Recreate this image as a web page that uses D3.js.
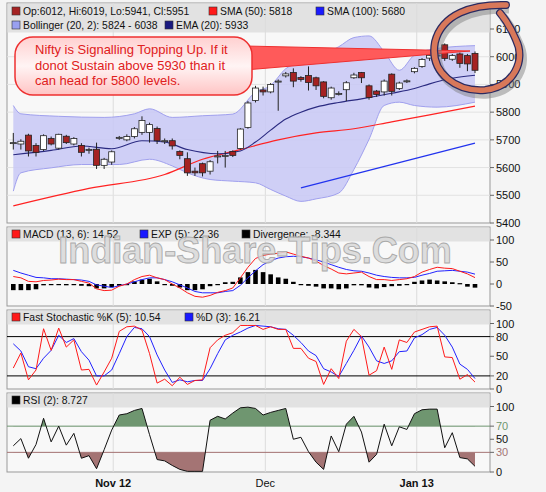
<!DOCTYPE html>
<html><head><meta charset="utf-8">
<script src="https://cdn.jsdelivr.net/npm/d3@7"></script>
<style>body{margin:0;background:#f4f4f4;}svg{display:block;font-family:"Liberation Sans",Arial,sans-serif;}</style>
</head><body><div id="chart"></div>
<script>
var opens  = [5690,5685,5717,5680,5665,5705,5670,5713,5685,5680,5665,5666,5608,5620,5709,5700,5712,5727,5727,5741,5697,5697,5658,5632,5587,5614,5587,5642,5644,5658,5669,5745,5842,5880,5873,5912,5931,5943,5925,5932,5924,5909,5852,5867,5881,5924,5943,5895,5876,5873,5937,5885,5913,5946,5965,5995,6003,6043,5991,6010,6004,6012];
var closes = [5690,5695,5660,5655,5715,5685,5720,5690,5705,5655,5665,5608,5630,5657,5709,5712,5740,5770,5755,5697,5697,5678,5644,5581,5581,5581,5621,5642,5644,5644,5739,5833,5887,5873,5900,5912,5938,5912,5918,5907,5895,5857,5887,5867,5906,5934,5924,5853,5864,5912,5875,5905,5913,5958,5990,6005,6006,5994,6004,5976,5974,5951];
var highs  = [5725,5702,5722,5688,5720,5712,5722,5718,5710,5688,5672,5690,5635,5662,5714,5720,5746,5785,5762,5748,5705,5705,5662,5655,5600,5618,5627,5660,5660,5662,5742,5840,5895,5892,5905,5918,5945,5958,5930,5965,5928,5912,5892,5875,5912,5942,5945,5900,5880,5918,5940,5910,5918,5962,5995,6010,6012,6048,6010,6015,6010,6019];
var lows   = [5665,5665,5640,5640,5660,5680,5665,5685,5680,5640,5650,5595,5595,5610,5700,5695,5705,5718,5690,5685,5685,5665,5630,5570,5570,5568,5575,5615,5600,5638,5665,5740,5835,5860,5868,5805,5925,5890,5910,5878,5880,5850,5845,5860,5840,5920,5905,5845,5855,5860,5860,5880,5905,5940,5960,5985,5990,5985,5985,5960,5948,5941];

var sma50   = [[0,5462],[10,5525],[20,5575],[25,5630],[30,5665],[35,5700],[40,5725],[45,5740],[50,5765],[55,5790],[61,5822]];
var sma100  = [[38,5527],[61,5688]];
var ema20   = [[0,5646],[5,5662],[9,5678],[13,5668],[17,5697],[20,5692],[23,5665],[27,5650],[30,5660],[32,5692],[34,5735],[36,5775],[38,5800],[40,5818],[43,5835],[46,5848],[50,5868],[53,5885],[55,5902],[58,5922],[61,5933]];
var bollUp  = [[0,5824],[1,5794],[6,5785],[12,5781],[16,5794],[18,5812],[21,5781],[25,5787],[29,5793],[32,5872],[34,5896],[36,5957],[38,5981],[40,6000],[43,6036],[45,6069],[47,6075],[49,6018],[51,5951],[53,6006],[56,6030],[61,6040]];
var bollLo  = [[0,5515],[1,5581],[5,5599],[9,5611],[14,5611],[18,5630],[21,5606],[23,5581],[26,5557],[29,5551],[32,5545],[34,5521],[36,5497],[38,5478],[40,5487],[43,5508],[45,5593],[47,5702],[49,5824],[51,5836],[53,5824],[56,5818],[61,5836]];

var macd = [17,14,6,5,8,9,11,10,10,6,2,-11,-15,-14,-5,0,10,17,20,14,10,0,-9,-20,-28,-30,-26,-19,-15,-9,14,38,58,65,68,70,73,68,63,59,52,42,34,25,23,25,27,17,10,10,8,10,12,17,27,33,38,36,35,29,23,14.5];
var macdExp = [31,25,20,15,14,12,12,11,10,9,6,-2,-5,-8,-4,0,5,10,14,14,10,5,-2,-9,-17,-20,-20,-20,-17,-15,-3,14,30,44,53,59,62,63,62,59,55,50,44,38,33,30,29,25,20,17,15,14,14,15,20,24,29,30,31,29,27,22.4];
var diverg = [-14,-14,-14,-12,-3,0,0,-3,0,-4,-5,-10,-10,-7,-4,-1,6,10,12,6,0,-4,-8,-14,-14,-12,-5,0,4,5,15,27,32,27,22,15,12,5,0,-4,-6,-10,-10,-12,-10,-3,-3,-8,-10,-7,-5,-4,0,5,8,10,8,6,4,2,-6,-8.3];
var stochK = [32,55,14,29,92,59,93,64,75,29,30,6,26,47,88,95,96,90,54,9,15,5,18,7,13,14,63,75,82,86,97,97,97,91,95,91,91,62,62,47,42,7,31,16,73,91,80,21,28,64,30,75,71,87,91,95,96,49,48,15,22,10.5];
var stochD = [69,58,34,31,47,59,82,71,77,57,44,20,20,29,54,80,94,92,80,52,29,10,14,11,13,13,31,54,75,82,87,93,97,96,95,92,91,82,71,58,51,31,26,19,39,59,81,64,43,39,43,57,58,78,83,91,94,82,64,38,30,16];
var rsi = [40,51,21,42,82,46,70,41,59,21,25,5,34,64,87,89,94,97,57,19,17,10,4,1,1,1,79,85,81,90,98,99,97,87,91,94,97,50,53,31,15,4,55,31,73,85,61,15,27,73,40,69,65,89,95,96,96,37,60,22,20,8.7];

var monthLabels = [{i:13.2,t:"Nov 12",b:true},{i:33.3,t:"Dec",b:false},{i:53.3,t:"Jan 13",b:true}];
var priceTicks = [5400,5500,5600,5700,5800,5900,6000,6100];

var W = 546, H = 492, L = 7, R = 490;
var svg = d3.select("#chart").append("svg").attr("width",W).attr("height",H);
svg.append("rect").attr("width",W).attr("height",H).attr("fill","#f4f4f4");

var x = d3.scaleLinear().domain([0,61]).range([13.3,475]);

function panel(top, bottom, legendH) {
	svg.append("rect").attr("x",L).attr("y",top).attr("width",R-L).attr("height",bottom-top)
		.attr("fill","#f8f8f8").attr("stroke","#999");
	svg.append("rect").attr("x",L+0.5).attr("y",top+0.5).attr("width",R-L-1).attr("height",legendH)
		.attr("fill","#e2e2e2");
	monthLabels.forEach(function(m){
		svg.append("line").attr("x1",x(m.i)).attr("x2",x(m.i)).attr("y1",top).attr("y2",bottom)
			.attr("stroke","#dcdcdc");
	});
}
function legend(items, y) {
	items.forEach(function(d){
		svg.append("rect").attr("x",d.x).attr("y",y-8).attr("width",8).attr("height",8)
			.attr("fill",d.c).attr("stroke","#333").attr("stroke-width",0.6);
		svg.append("text").attr("x",d.x+11).attr("y",y).attr("font-size",10.4).attr("fill","#111").text(d.t);
	});
}
function rightAxis(scale, ticks, colors) {
	var g = svg.append("g");
	ticks.forEach(function(t,k){
		g.append("line").attr("x1",R).attr("x2",R+4).attr("y1",scale(t)).attr("y2",scale(t)).attr("stroke","#666");
		g.append("text").attr("x",R+6).attr("y",scale(t)+4).attr("font-size",11)
			.attr("fill",colors ? colors[k] : "#111").text(t);
	});
}

// ---- main price panel
panel(3,223,29);
var y = d3.scaleLinear().domain([5400,6100]).range([223,29]);
priceTicks.slice(1,-1).forEach(function(t){
	svg.append("line").attr("x1",L).attr("x2",R).attr("y1",y(t)).attr("y2",y(t)).attr("stroke","#e2e2e2");
});
var curve = d3.curveMonotoneX;
var upLine = d3.line().x(function(d){return x(d[0]);}).y(function(d){return y(d[1]);}).curve(curve);
var loRev = bollLo.slice().reverse();
svg.append("path").attr("d", upLine(bollUp) + "L" + upLine(loRev).slice(1) + "Z")
	.attr("fill","#c8c8f6").attr("fill-opacity",0.85);
svg.append("path").attr("d",upLine(bollUp)).attr("fill","none").attr("stroke","#a0a0ee");
svg.append("path").attr("d",upLine(bollLo)).attr("fill","none").attr("stroke","#a0a0ee");
svg.append("path").attr("d",upLine(sma50)).attr("fill","none").attr("stroke","#ff2222").attr("stroke-width",1.2);
svg.append("path").attr("d",upLine(sma100)).attr("fill","none").attr("stroke","#2233ee").attr("stroke-width",1.2);
svg.append("path").attr("d",upLine(ema20)).attr("fill","none").attr("stroke","#2a2a80").attr("stroke-width",1.1);

var candles = svg.append("g");
opens.forEach(function(o,i){
	var c = closes[i], cx = x(i);
	candles.append("line").attr("x1",cx).attr("x2",cx).attr("y1",y(highs[i])).attr("y2",y(lows[i])).attr("stroke","#222");
	var top = y(Math.max(o,c)), h = Math.max(1, Math.abs(y(o)-y(c)));
	candles.append("rect").attr("x",cx-3).attr("y",top).attr("width",6).attr("height",h)
		.attr("fill", c < o ? "#a52222" : "#ffffff").attr("stroke","#222").attr("stroke-width",0.8);
});
legend([{x:12,c:"#a52222",t:"Op:6012, Hi:6019, Lo:5941, Cl:5951"},{x:209,c:"#ff1a1a",t:"SMA (50): 5818"},{x:316,c:"#1a1aff",t:"SMA (100): 5680"}],15);
legend([{x:12,c:"#99a0f0",t:"Bollinger (20, 2): 5824 - 6038"},{x:165,c:"#1a1a80",t:"EMA (20): 5933"}],29);
rightAxis(y, priceTicks);

// ---- MACD panel
panel(227,306,14);
var ym = d3.scaleLinear().domain([-50,100]).range([306,240]);
var bw = 4.6;
svg.append("g").selectAll("rect").data(diverg).join("rect")
	.attr("x",function(d,i){return x(i)-bw/2;}).attr("width",bw)
	.attr("y",function(d){return d>=0 ? ym(d) : ym(0);})
	.attr("height",function(d){return Math.max(1.2, Math.abs(ym(d)-ym(0)));})
	.attr("fill","#000");
var lineM = d3.line().x(function(d,i){return x(i);}).y(function(d){return ym(d);});
svg.append("path").attr("d",lineM(macdExp)).attr("fill","none").attr("stroke","#2222ff");
svg.append("path").attr("d",lineM(macd)).attr("fill","none").attr("stroke","#ff1a1a");
rightAxis(ym, [-50,0,50,100]);

legend([{x:12,c:"#ff1a1a",t:"MACD (13, 6): 14.52"},{x:140,c:"#1a1aff",t:"EXP (5): 22.36"},{x:242,c:"#000",t:"Divergence: -8.344"}],238);
// watermark
svg.append("text").attr("x",255).attr("y",263).attr("text-anchor","middle").attr("font-size",36)
	.attr("font-weight","bold").attr("fill","#d8d8d8").attr("fill-opacity",0.85)
	.attr("stroke","#aaa").attr("stroke-width",0.9).text("Indian-Share-Tips.Com");

// ---- Stochastic panel
panel(310,389,14);
var ys = d3.scaleLinear().domain([0,100]).range([389,323.5]);
[80,20].forEach(function(t){
	svg.append("line").attr("x1",L).attr("x2",R).attr("y1",ys(t)).attr("y2",ys(t)).attr("stroke","#000");
});
var lineS = d3.line().x(function(d,i){return x(i);}).y(function(d){return ys(d);});
svg.append("path").attr("d",lineS(stochD)).attr("fill","none").attr("stroke","#2222ff");
svg.append("path").attr("d",lineS(stochK)).attr("fill","none").attr("stroke","#ff1a1a");
legend([{x:12,c:"#ff1a1a",t:"Fast Stochastic %K (5): 10.54"},{x:185,c:"#1a1aff",t:"%D (3): 16.21"}],321);
rightAxis(ys, [0,20,50,80,100]);

// ---- RSI panel
panel(393,472,14);
var yr = d3.scaleLinear().domain([0,100]).range([472,406.5]);
var lineR = d3.line().x(function(d,i){return x(i);}).y(function(d){return yr(d);});
svg.append("clipPath").attr("id","above").append("rect").attr("x",L).attr("y",406).attr("width",R-L).attr("height",yr(70)-406);
svg.append("clipPath").attr("id","below").append("rect").attr("x",L).attr("y",yr(30)).attr("width",R-L).attr("height",472-yr(30));
svg.append("path").attr("d",d3.area().x(function(d,i){return x(i);}).y0(yr(70)).y1(function(d){return yr(d);})(rsi))
	.attr("clip-path","url(#above)").attr("fill","#6f9670");
svg.append("path").attr("d",d3.area().x(function(d,i){return x(i);}).y0(yr(30)).y1(function(d){return yr(d);})(rsi))
	.attr("clip-path","url(#below)").attr("fill","#a47474");
svg.append("line").attr("x1",L).attr("x2",R).attr("y1",yr(70)).attr("y2",yr(70)).attr("stroke","#6f9670");
svg.append("line").attr("x1",L).attr("x2",R).attr("y1",yr(30)).attr("y2",yr(30)).attr("stroke","#a47474");
svg.append("path").attr("d",lineR(rsi)).attr("fill","none").attr("stroke","#111");
legend([{x:12,c:"#000",t:"RSI (2): 8.727"}],404);
rightAxis(yr, [0,30,50,70,100], ["#111","#a47474","#111","#6f9670","#111"]);

// x labels
monthLabels.forEach(function(m){
	svg.append("text").attr("x",x(m.i)).attr("y",487).attr("text-anchor","middle").attr("font-size",11)
		.attr("font-weight",m.b?"bold":"normal").attr("fill","#111").text(m.t);
});

// ---- annotation callout
var defs = svg.append("defs");
var g1 = defs.append("linearGradient").attr("id","bubble").attr("x1","0%").attr("y1","0%").attr("x2","0%").attr("y2","100%");
g1.append("stop").attr("offset","0%").attr("stop-color","#ffd0d0");
g1.append("stop").attr("offset","50%").attr("stop-color","#fff4f4");
g1.append("stop").attr("offset","100%").attr("stop-color","#ffc4c4");
svg.append("path").attr("d","M245,46 L470,51 L245,70 Z").attr("fill","#ff5a5a").attr("stroke","#ee3030");
svg.append("rect").attr("x",15).attr("y",37).attr("width",237).attr("height",58).attr("rx",18)
	.attr("fill","url(#bubble)").attr("stroke","#ee3030").attr("stroke-width",1.5);
["Nifty is Signalling Topping Up. If it","donot Sustain above 5930 than it","can head for 5800 levels."].forEach(function(t,k){
	svg.append("text").attr("x",35).attr("y",54+k*15.5).attr("font-size",13).attr("fill","#e02020").text(t);
});

// circled area
var ring = "M506,5 C472,4 442,14 435,42 C429,74 458,92 485,90 C514,87 526,60 516,40 C511,28 506,20 500,13";
svg.append("path").attr("d",ring).attr("fill","none").attr("stroke","#777").attr("stroke-opacity",0.45).attr("stroke-width",9).attr("transform","translate(3,4)");
svg.append("path").attr("d",ring).attr("fill","none").attr("stroke","#2a2a60").attr("stroke-width",8).attr("stroke-linecap","round");
svg.append("path").attr("d",ring).attr("fill","none").attr("stroke","#d8785a").attr("stroke-width",5.5).attr("stroke-linecap","round");
</script></body></html>
